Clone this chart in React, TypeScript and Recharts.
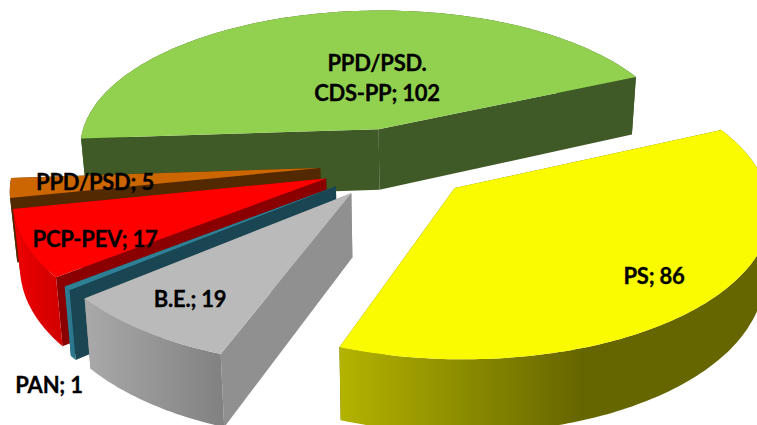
import React from 'react'
import { PieChart, Pie, Cell } from 'recharts'

// drawn in this order, going counter-clockwise, so the nearer slices paint last
const PARTIES = ['PS', 'PPD/PSD. CDS-PP', 'PPD/PSD', 'PCP-PEV', 'PAN', 'B.E.']
const SEATS = [86, 102, 5, 17, 1, 19]
const TOP_COLORS = ['#fafa00', '#92d050', '#cc6600', '#ff0000', '#2f7f95', '#bababa']
const RADIAL_WALLS = ['#666600', '#3f5a26', '#522900', '#8a0000', '#1a4552', '#909090']
const OUTER_WALLS: [string, string, number, number][] = [
  ['#b3b300', '#666600', 340, 580],
  ['#3f5a26', '#3f5a26', 0, 757],
  ['#522900', '#522900', 0, 757],
  ['#ee0000', '#d00000', 13, 63],
  ['#2f7f95', '#276f84', 65, 80],
  ['#a8a8a8', '#808080', 90, 227],
]
const LABEL_LINES = [['PS; 86'], ['PPD/PSD.', 'CDS-PP; 102'], ['PPD/PSD; 5'], ['PCP-PEV; 17'], ['PAN; 1'], ['B.E.; 19']]
const LABEL_SPOTS = [[654, 284], [377, 71], [95, 190], [95, 247], [49, 393], [190, 307]]

const WIDTH = 757
const HEIGHT = 425
const CX = 397
const CY = 163
const RADIUS = 305
const SQUASH = 0.466
const PERSPECTIVE = 0.129
const EXPLODE = 0.253
const WALL = 62.5
const VANISH_X = 413

const rad = (deg: number) => (deg * Math.PI) / 180

function project(wx: number, wy: number, lower: boolean) {
  const d = 1 - PERSPECTIVE * wy
  let x = CX + (RADIUS * wx) / d
  let y = CY + (RADIUS * SQUASH * wy) / d
  if (lower) {
    y += WALL / d
    x += (VANISH_X - x) * 0.018
  }
  return [x, y]
}

const toPath = (pts: number[][]) =>
  'M' + pts.map((p) => `${p[0].toFixed(1)},${p[1].toFixed(1)}`).join('L') + 'Z'

function Slice3D(props: any) {
  const { startAngle, endAngle, midAngle, fill, name } = props
  const i = PARTIES.indexOf(name ?? props.payload?.name)
  const ox = EXPLODE * Math.cos(rad(midAngle))
  const oy = -EXPLODE * Math.sin(rad(midAngle))
  const steps = Math.max(2, Math.ceil(Math.abs(endAngle - startAngle)))
  const rim = (lower: boolean) => {
    const pts: number[][] = []
    for (let s = 0; s <= steps; s++) {
      const a = rad(startAngle + ((endAngle - startAngle) * s) / steps)
      pts.push(project(ox + Math.cos(a), oy - Math.sin(a), lower))
    }
    return pts
  }
  const top = rim(false)
  const bottom = rim(true)
  const apex = project(ox, oy, false)
  const apexLow = project(ox, oy, true)
  const [c1, c2, x1, x2] = OUTER_WALLS[i]
  const gradId = `outer-wall-${i}`
  return (
    <g>
      <defs>
        <linearGradient id={gradId} gradientUnits="userSpaceOnUse" x1={x1} x2={x2} y1={0} y2={0}>
          <stop offset="0%" stopColor={c1} />
          <stop offset="100%" stopColor={c2} />
        </linearGradient>
      </defs>
      <path d={toPath([apex, top[0], bottom[0], apexLow])} fill={RADIAL_WALLS[i]} />
      <path d={toPath([apex, top[steps], bottom[steps], apexLow])} fill={RADIAL_WALLS[i]} />
      <path d={toPath([...top, ...bottom.slice().reverse()])} fill={`url(#${gradId})`} />
      <path d={toPath([apex, ...top])} fill={fill} />
    </g>
  )
}

function SliceLabel(props: any) {
  const i = props.index
  const [x, y] = LABEL_SPOTS[i]
  return (
    <text
      x={x}
      y={y}
      textAnchor="middle"
      fill="#000"
      stroke="#000"
      strokeWidth={0.3}
      style={{ fontFamily: 'Lato, sans-serif', fontWeight: 700, fontSize: 22, letterSpacing: -0.25 }}
    >
      {LABEL_LINES[i].map((line, n) => (
        <tspan key={line} x={x} dy={n === 0 ? 0 : 29.5}>
          {line}
        </tspan>
      ))}
    </text>
  )
}

const data = PARTIES.map((name, i) => ({ name, value: SEATS[i] }))

export default function App() {
  return (
    <div style={{ position: 'absolute', left: 0, top: 0, width: WIDTH, height: HEIGHT, overflow: 'hidden', background: '#fff' }}>
      <PieChart width={WIDTH} height={HEIGHT} margin={{ top: 0, right: 0, bottom: 0, left: 0 }}>
        <Pie
          data={data}
          dataKey="value"
          nameKey="name"
          cx={CX}
          cy={CY}
          innerRadius={0}
          outerRadius={RADIUS}
          startAngle={-110.3}
          endAngle={249.7}
          paddingAngle={0}
          stroke="none"
          shape={Slice3D}
          label={SliceLabel}
          labelLine={false}
          isAnimationActive={false}
        >
          {data.map((d, i) => (
            <Cell key={d.name} fill={TOP_COLORS[i]} />
          ))}
        </Pie>
      </PieChart>
    </div>
  )
}
